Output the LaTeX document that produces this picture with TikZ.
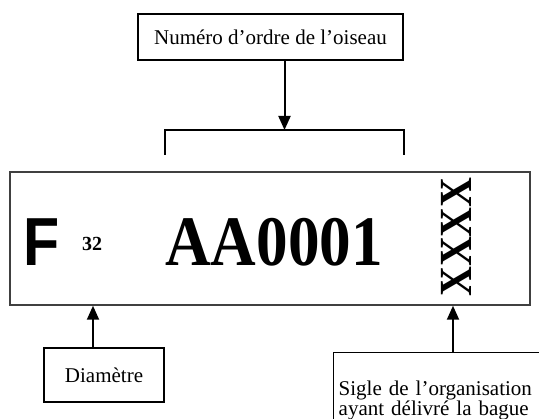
\documentclass[tikz,border=0pt]{standalone}
\usepackage{fontspec}
\setmainfont{Liberation Serif}
\newfontfamily\arialfont{Liberation Sans}
\usetikzlibrary{arrows.meta,positioning}

\tikzset{
  labelbox/.style={draw,line width=1.4pt,font=\fontsize{21}{20}\selectfont,inner sep=0pt},
  pointer/.style={line width=2pt,-{Triangle[width=12pt,length=14pt]}},
  ring/.style={draw=black!75,line width=1.5pt,minimum width=520pt,minimum height=133pt,inner sep=0pt},
  stamp/.style={anchor=base west,inner sep=0pt}
}

\begin{document}
\begin{tikzpicture}[x=1pt,y=-1pt]
  \useasboundingbox (0,0) rectangle (539,419);
  \clip (0,0) rectangle (539,419);

  % the band and what is printed on it
  \node[ring] (band) at (270,238.5) {};
  \node[stamp] (letter) at (23,266) {\scalebox{0.87}[1]{\arialfont\bfseries\fontsize{68}{68}\selectfont F}};
  \node[stamp] (size) at (82,251) {\bfseries\fontsize{20}{20}\selectfont 32};
  \node[stamp] (code) at (165,266) {\scalebox{0.89}[1]{\bfseries\fontsize{71}{71}\selectfont AA0001}};
  \node[rotate=90,inner sep=0pt] (sigil) at (456.5,237) {\scalebox{0.9}[1]{\bfseries\fontsize{46}{46}\selectfont XXXX}};

  % labels
  \node[labelbox,minimum width=265pt,minimum height=46pt] (numero) at (270.5,37) {Numéro d’ordre de l’oiseau};
  \node[labelbox,minimum width=120pt,minimum height=54pt] (diam) at (104,375) {Diamètre};
  \node[labelbox,anchor=north west,align=left,inner xsep=5pt,inner ysep=28pt,text width=230pt] (sigle) at (333,352)
    {Sigle de l’organisation\\ayant délivré la bague};

  % bracket over the number
  \coordinate (brl) at (165,155);
  \coordinate (brr) at (404,155);
  \coordinate (brtop) at (284.5,130);
  \draw[line width=1.4pt] (brl) -- (brl |- brtop) -- (brr |- brtop) -- (brr);

  % arrows
  \draw[pointer] (numero.south -| brtop) -- (brtop);
  \draw[pointer] ([xshift=-11pt]diam.north) -- ([xshift=-11pt]diam.north |- band.south);
  \draw[pointer] ([xshift=120pt]sigle.north west) -- ([xshift=120pt]sigle.north west |- band.south);
\end{tikzpicture}
\end{document}
